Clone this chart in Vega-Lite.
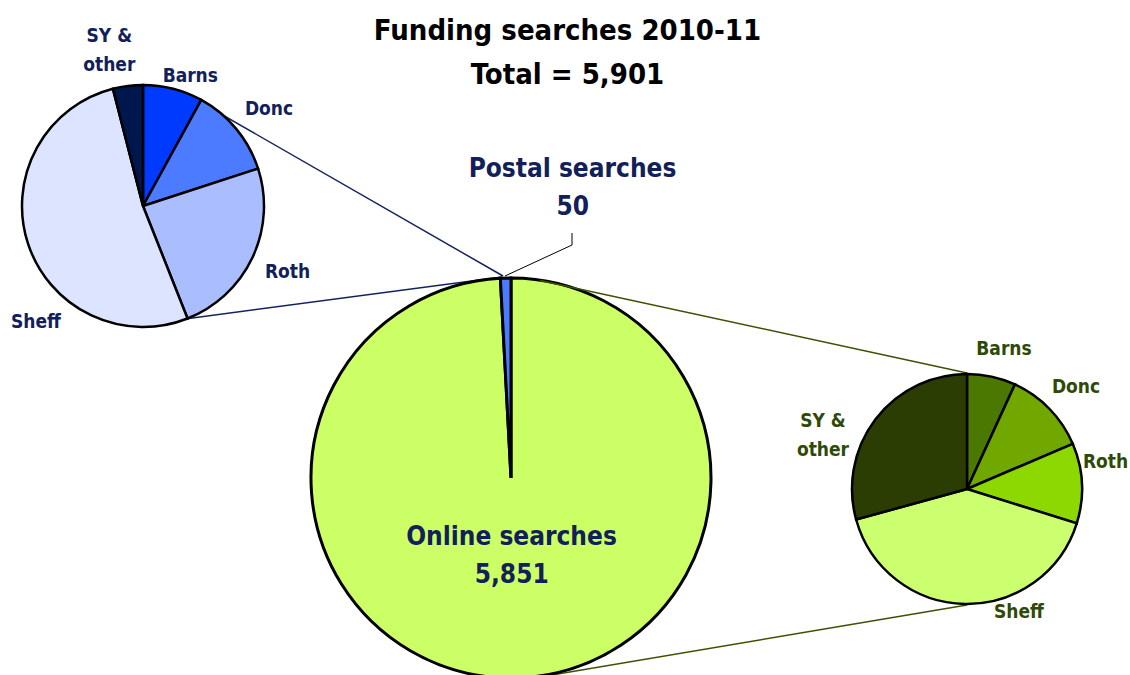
{
  "$schema": "https://vega.github.io/schema/vega-lite/v6.json",
  "width": 1130,
  "height": 675,
  "padding": 0,
  "autosize": {"type": "none"},
  "background": "white",
  "config": {
    "view": {"stroke": null},
    "axis": {"disable": true, "domain": false, "ticks": false, "labels": false, "grid": false},
    "text": {"font": "DejaVu Sans Condensed, Open Sans, sans-serif", "fontWeight": "bold", "align": "center", "baseline": "alphabetic", "lineBreak": "\n", "lineHeight": 29, "fontSize": 19}
  },
  "data": {
    "values": [
      {"pie": "Total", "area": "Online searches", "searches": 5851, "i": 1},
      {"pie": "Total", "area": "Postal searches", "searches": 50, "i": 2},
      {"pie": "Postal", "area": "Barns", "searches": 4, "i": 1},
      {"pie": "Postal", "area": "Donc", "searches": 6, "i": 2},
      {"pie": "Postal", "area": "Roth", "searches": 12, "i": 3},
      {"pie": "Postal", "area": "Sheff", "searches": 26, "i": 4},
      {"pie": "Postal", "area": "SY &\nother", "searches": 2, "i": 5},
      {"pie": "Online", "area": "Barns", "searches": 400, "i": 1},
      {"pie": "Online", "area": "Donc", "searches": 687, "i": 2},
      {"pie": "Online", "area": "Roth", "searches": 658, "i": 3},
      {"pie": "Online", "area": "Sheff", "searches": 2393, "i": 4},
      {"pie": "Online", "area": "SY &\nother", "searches": 1713, "i": 5}
    ]
  },
  "resolve": {"scale": {"theta": "independent", "color": "independent"}},
  "layer": [
    {
      "data": {"values": [{}]},
      "mark": {"type": "rule", "stroke": "#14235F", "strokeWidth": 1.5},
      "encoding": {
        "x": {"datum": 200, "type": "quantitative", "scale": {"domain": [0, 1130], "nice": false, "zero": false}, "axis": null},
        "y": {"datum": 102, "type": "quantitative", "scale": {"domain": [0, 675], "nice": false, "zero": false, "reverse": true}, "axis": null},
        "x2": {"datum": 503}, "y2": {"datum": 276}
      }
    },
    {
      "data": {"values": [{}]},
      "mark": {"type": "rule", "stroke": "#14235F", "strokeWidth": 1.5},
      "encoding": {"x": {"datum": 185}, "y": {"datum": 319}, "x2": {"datum": 502}, "y2": {"datum": 277}}
    },
    {
      "data": {"values": [{}]},
      "mark": {"type": "rule", "stroke": "#3D5200", "strokeWidth": 1.5},
      "encoding": {"x": {"datum": 967}, "y": {"datum": 605}, "x2": {"datum": 540}, "y2": {"datum": 677}}
    },
    {
      "transform": [{"filter": "datum.pie === 'Total'"}],
      "mark": {"type": "arc", "outerRadius": 200, "stroke": "black", "strokeWidth": 3},
      "encoding": {
        "x": {"datum": 511}, "y": {"datum": 478},
        "theta": {"field": "searches", "type": "quantitative", "stack": true},
        "order": {"field": "i", "type": "quantitative"},
        "color": {"field": "area", "type": "nominal", "scale": {"domain": ["Online searches", "Postal searches"], "range": ["#CCFF66", "#4D7BFF"]}, "legend": null}
      }
    },
    {
      "data": {"values": [{}]},
      "mark": {"type": "rule", "stroke": "#3D5200", "strokeWidth": 1.5},
      "encoding": {"x": {"datum": 540}, "y": {"datum": 280.5}, "x2": {"datum": 967}, "y2": {"datum": 373}}
    },
    {
      "transform": [{"filter": "datum.pie === 'Postal'"}],
      "mark": {"type": "arc", "outerRadius": 121, "stroke": "black", "strokeWidth": 2.5},
      "encoding": {
        "x": {"datum": 143}, "y": {"datum": 206},
        "theta": {"field": "searches", "type": "quantitative", "stack": true},
        "order": {"field": "i", "type": "quantitative"},
        "color": {"field": "area", "type": "nominal", "scale": {"domain": ["Barns", "Donc", "Roth", "Sheff", "SY &\nother"], "range": ["#0039FF", "#4D7BFF", "#AABEFF", "#DCE4FF", "#00174D"]}, "legend": null}
      }
    },
    {
      "transform": [{"filter": "datum.pie === 'Online'"}],
      "mark": {"type": "arc", "outerRadius": 115, "stroke": "black", "strokeWidth": 2.5},
      "encoding": {
        "x": {"datum": 967}, "y": {"datum": 489},
        "theta": {"field": "searches", "type": "quantitative", "stack": true},
        "order": {"field": "i", "type": "quantitative"},
        "color": {"field": "area", "type": "nominal", "scale": {"domain": ["Barns", "Donc", "Roth", "Sheff", "SY &\nother"], "range": ["#4B7800", "#70A800", "#8DD800", "#CCFF70", "#2B3D03"]}, "legend": null}
      }
    },
    {
      "data": {"values": [{}]},
      "mark": {"type": "rule", "stroke": "black", "strokeWidth": 1},
      "encoding": {"x": {"datum": 505}, "y": {"datum": 276}, "x2": {"datum": 572}, "y2": {"datum": 245}}
    },
    {
      "data": {"values": [{}]},
      "mark": {"type": "rule", "stroke": "black", "strokeWidth": 1},
      "encoding": {"x": {"datum": 572}, "y": {"datum": 245}, "x2": {"datum": 572}, "y2": {"datum": 233}}
    },
    {
      "data": {"values": [{}]},
      "mark": {"type": "text", "fontSize": 29, "lineHeight": 44, "fill": "black"},
      "encoding": {"x": {"datum": 567.5}, "y": {"datum": 40}, "text": {"value": ["Funding searches 2010-11", "Total = 5,901"]}}
    },
    {
      "transform": [{"filter": "datum.pie === 'Total' && datum.i === 2"}],
      "mark": {"type": "text", "fontSize": 26, "fill": "#12205A"},
      "encoding": {"x": {"datum": 572.5}, "y": {"datum": 176.7}, "text": {"field": "area"}}
    },
    {
      "transform": [{"filter": "datum.pie === 'Total' && datum.i === 2"}],
      "mark": {"type": "text", "fontSize": 26, "fill": "#12205A"},
      "encoding": {"x": {"datum": 572.8}, "y": {"datum": 215}, "text": {"field": "searches", "type": "quantitative", "format": ","}}
    },
    {
      "transform": [{"filter": "datum.pie === 'Total' && datum.i === 1"}],
      "mark": {"type": "text", "fontSize": 26, "fill": "#12205A"},
      "encoding": {"x": {"datum": 511.5}, "y": {"datum": 545}, "text": {"field": "area"}}
    },
    {
      "transform": [{"filter": "datum.pie === 'Total' && datum.i === 1"}],
      "mark": {"type": "text", "fontSize": 26, "fill": "#12205A"},
      "encoding": {"x": {"datum": 511.7}, "y": {"datum": 582.7}, "text": {"field": "searches", "type": "quantitative", "format": ","}}
    },
    {
      "transform": [{"filter": "datum.pie === 'Postal' && datum.i === 1"}],
      "mark": {"type": "text", "fill": "#12205A"},
      "encoding": {"x": {"datum": 190.3}, "y": {"datum": 81.7}, "text": {"field": "area"}}
    },
    {
      "transform": [{"filter": "datum.pie === 'Postal' && datum.i === 2"}],
      "mark": {"type": "text", "fill": "#12205A"},
      "encoding": {"x": {"datum": 269}, "y": {"datum": 114.5}, "text": {"field": "area"}}
    },
    {
      "transform": [{"filter": "datum.pie === 'Postal' && datum.i === 3"}],
      "mark": {"type": "text", "fill": "#12205A"},
      "encoding": {"x": {"datum": 287.5}, "y": {"datum": 278.3}, "text": {"field": "area"}}
    },
    {
      "transform": [{"filter": "datum.pie === 'Postal' && datum.i === 4"}],
      "mark": {"type": "text", "fill": "#12205A"},
      "encoding": {"x": {"datum": 36}, "y": {"datum": 328}, "text": {"field": "area"}}
    },
    {
      "transform": [{"filter": "datum.pie === 'Postal' && datum.i === 5"}],
      "mark": {"type": "text", "fill": "#12205A"},
      "encoding": {"x": {"datum": 109.3}, "y": {"datum": 41.7}, "text": {"field": "area"}}
    },
    {
      "transform": [{"filter": "datum.pie === 'Online' && datum.i === 1"}],
      "mark": {"type": "text", "fill": "#2F4A08"},
      "encoding": {"x": {"datum": 1004}, "y": {"datum": 355}, "text": {"field": "area"}}
    },
    {
      "transform": [{"filter": "datum.pie === 'Online' && datum.i === 2"}],
      "mark": {"type": "text", "fill": "#2F4A08"},
      "encoding": {"x": {"datum": 1076}, "y": {"datum": 393.3}, "text": {"field": "area"}}
    },
    {
      "transform": [{"filter": "datum.pie === 'Online' && datum.i === 3"}],
      "mark": {"type": "text", "fill": "#2F4A08"},
      "encoding": {"x": {"datum": 1105.5}, "y": {"datum": 468.3}, "text": {"field": "area"}}
    },
    {
      "transform": [{"filter": "datum.pie === 'Online' && datum.i === 4"}],
      "mark": {"type": "text", "fill": "#2F4A08"},
      "encoding": {"x": {"datum": 1019}, "y": {"datum": 618}, "text": {"field": "area"}}
    },
    {
      "transform": [{"filter": "datum.pie === 'Online' && datum.i === 5"}],
      "mark": {"type": "text", "fill": "#2F4A08"},
      "encoding": {"x": {"datum": 823}, "y": {"datum": 427.3}, "text": {"field": "area"}}
    }
  ]
}
